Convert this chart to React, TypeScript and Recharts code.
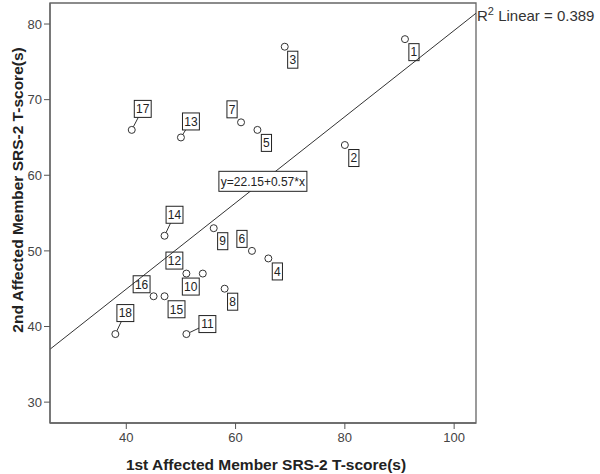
import React from 'react';
import {
  ScatterChart, Scatter, XAxis, YAxis, ReferenceLine, ReferenceArea, ReferenceDot,
} from 'recharts';

// family pair ids and SRS-2 T-scores of the two affected members
const PAIR_IDS = [1, 2, 3, 4, 5, 6, 7, 8, 9, 10, 11, 12, 13, 14, 15, 16, 17, 18];
const SCORE_1ST = [91, 80, 69, 66, 64, 63, 61, 58, 56, 54, 51, 51, 50, 47, 47, 45, 41, 38];
const SCORE_2ND = [78, 64, 77, 49, 66, 50, 67, 45, 53, 47, 39, 47, 65, 52, 44, 44, 66, 39];

const X_TICKS = [40, 60, 80, 100];
const Y_TICKS = [30, 40, 50, 60, 70, 80];

// fit line reported by the plot
const INTERCEPT = 22.15;
const SLOPE = 0.57;
const R_SQUARED = 0.389;

const X_DOMAIN: [number, number] = [26.04, 104];
const Y_DOMAIN: [number, number] = [27.24, 82.78];

const FONT = '"Liberation Sans", Arial, sans-serif';

// where each id box sits relative to its point (px), and which get a leader line
const LABEL_OFFSET: Record<number, [number, number]> = {
  1: [9, 13], 2: [9, 13], 3: [8, 13], 4: [9, 13], 5: [9, 13], 6: [-10, -12],
  7: [-9, -13], 8: [8, 13], 9: [9, 13], 10: [-12, 13], 11: [21, -10], 12: [-12, -13],
  13: [10, -16], 14: [10, -21], 15: [12, 13], 16: [-12, -12], 17: [11, -21], 18: [10, -21],
};
const LEADER = new Set([11, 13, 14, 17, 18]);

const data = PAIR_IDS.map((id, i) => ({ id, x: SCORE_1ST[i], y: SCORE_2ND[i] }));

const fit = (x: number) => INTERCEPT + SLOPE * x;

const PointWithLabel = (props: any) => {
  const { cx, cy, payload } = props;
  if (cx == null || cy == null) return null;
  const id: number = payload.id;
  const [dx, dy] = LABEL_OFFSET[id] || [9, 13];
  const text = String(id);
  const w = text.length * 6.7 + 3.5;
  const h = 17;
  const bx = cx + dx;
  const by = cy + dy;
  let leader = null;
  if (LEADER.has(id)) {
    const len = Math.hypot(dx, dy);
    const ux = dx / len;
    const uy = dy / len;
    const t = Math.min(w / 2 / Math.abs(dx || 1e-6), h / 2 / Math.abs(dy || 1e-6));
    leader = (
      <line
        x1={cx + ux * 3.5} y1={cy + uy * 3.5}
        x2={bx - dx * t} y2={by - dy * t}
        stroke="#333" strokeWidth={1}
      />
    );
  }
  return (
    <g>
      {leader}
      <circle cx={cx} cy={cy} r={3.5} fill="#fff" stroke="#333" strokeWidth={1} />
      <rect x={bx - w / 2} y={by - h / 2} width={w} height={h} fill="none" stroke="#222" strokeWidth={1} />
      <text x={bx} y={by + 4.3} textAnchor="middle" fontSize={12} fontFamily={FONT} fill="#222">{text}</text>
    </g>
  );
};

const EquationBox = (props: any) => {
  const { cx, cy } = props;
  return (
    <g>
      <rect x={cx - 44} y={cy - 10} width={88} height={20} fill="#fff" stroke="#222" strokeWidth={1} />
      <text x={cx} y={cy + 4.3} textAnchor="middle" fontSize={12} fontFamily={FONT} fill="#222">
        {`y=${INTERCEPT}+${SLOPE}*x`}
      </text>
    </g>
  );
};

const RSquaredText = (props: any) => {
  const { cx, cy } = props;
  return (
    <text x={cx + 1} y={cy + 8} fontSize={15} fontFamily={FONT} fill="#333">
      R<tspan dy={-6} fontSize={11}>2</tspan><tspan dy={6}>{` Linear = ${R_SQUARED}`}</tspan>
    </text>
  );
};

const App: React.FC = () => {
  return (
    <div style={{ position: 'absolute', left: 0, top: 0, width: 600, height: 474, background: '#fff' }}>
      <ScatterChart
        width={600}
        height={474}
        margin={{ top: 3, right: 124, bottom: 21, left: 0 }}
        style={{ fontFamily: FONT }}
      >
        <ReferenceArea
          x1={X_DOMAIN[0]} x2={X_DOMAIN[1]} y1={Y_DOMAIN[0]} y2={Y_DOMAIN[1]}
          fill="none" fillOpacity={0} stroke="#666" strokeWidth={1.3} ifOverflow="visible"
        />
        <XAxis
          type="number" dataKey="x" domain={X_DOMAIN} ticks={X_TICKS} allowDataOverflow
          height={30} tickSize={6} tickMargin={4}
          axisLine={{ stroke: '#666', strokeWidth: 1.3 }} tickLine={{ stroke: '#555' }}
          tick={{ fontSize: 13, fill: '#444' }}
          label={{ value: '1st Affected Member SRS-2 T-score(s)', position: 'center', dx: 3, dy: 26, fontSize: 15.5, fontWeight: 'bold', fill: '#222' }}
        />
        <YAxis
          type="number" dataKey="y" domain={Y_DOMAIN} ticks={Y_TICKS} allowDataOverflow
          width={50} tickSize={6} tickMargin={2}
          axisLine={{ stroke: '#666', strokeWidth: 1.3 }} tickLine={{ stroke: '#555' }}
          tick={{ fontSize: 13, fill: '#444' }}
          label={{ value: '2nd Affected Member SRS-2 T-score(s)', position: 'center', angle: -90, dx: -8, dy: -23, fontSize: 15.5, fontWeight: 'bold', fill: '#222' }}
        />
        <ReferenceLine
          segment={[{ x: X_DOMAIN[0], y: fit(X_DOMAIN[0]) }, { x: X_DOMAIN[1], y: fit(X_DOMAIN[1]) }]}
          stroke="#333" strokeWidth={1} ifOverflow="visible"
        />
        <Scatter data={data} shape={PointWithLabel} isAnimationActive={false} />
        <ReferenceDot x={65} y={fit(65)} ifOverflow="visible" shape={EquationBox} />
        <ReferenceDot x={X_DOMAIN[1]} y={fit(X_DOMAIN[1])} ifOverflow="visible" shape={RSquaredText} />
      </ScatterChart>
    </div>
  );
};

export default App;
